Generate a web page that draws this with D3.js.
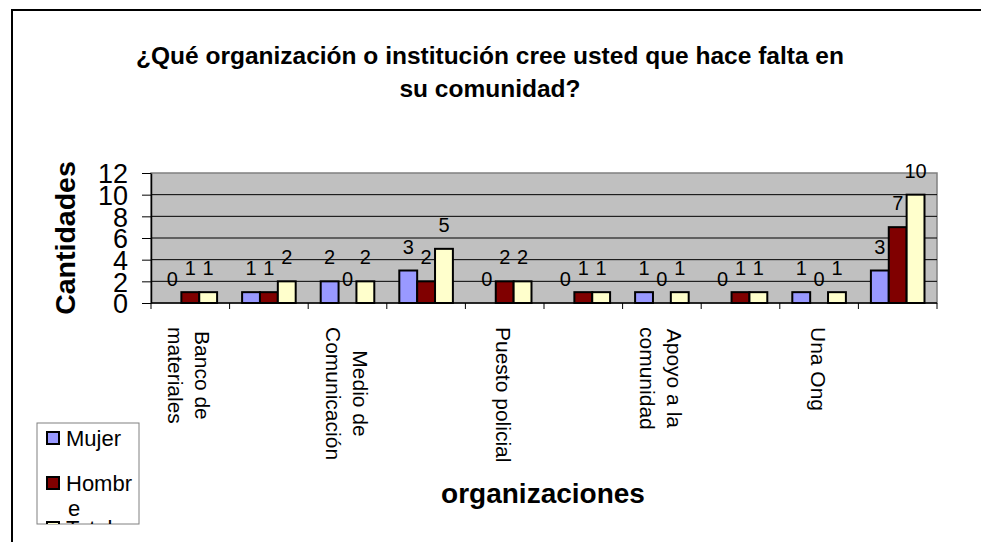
<!DOCTYPE html>
<html>
<head>
<meta charset="utf-8">
<script src="https://cdn.jsdelivr.net/npm/d3@7"></script>
<style>
  html, body { margin: 0; padding: 0; background: #fff; }
  svg { display: block; font-family: "Liberation Sans", Arial, sans-serif; }
</style>
</head>
<body>
<div id="chart"></div>
<script>
// categories (only every other label is shown on the axis, like the original)
const categories = ["Banco de\nmateriales", "", "Medio de\nComunicación", "", "Puesto policial", "",
  "Apoyo a la\ncomunidad", "", "Una Ong", ""];
const series = ["Mujer", "Hombre", "Total"];
const mujer = [0, 1, 2, 3, 0, 0, 1, 0, 1, 3];
const hombre = [1, 1, 0, 2, 2, 1, 0, 1, 0, 7];
const total = [1, 2, 2, 5, 2, 1, 1, 1, 1, 10];
const yTicks = [0, 2, 4, 6, 8, 10, 12];
const colors = ["#9999FF", "#800000", "#FFFFCC"];

const width = 981, height = 542;
const plot = { left: 151, right: 937, top: 173, bottom: 303 };

const svg = d3.select("#chart").append("svg")
  .attr("width", width)
  .attr("height", height);

svg.append("rect").attr("width", width).attr("height", height).attr("fill", "#fff");

// outer chart frame (only top and left visible)
svg.append("path")
  .attr("d", `M12,${height} L12,10 L${width},10`)
  .attr("fill", "none")
  .attr("stroke", "#000")
  .attr("stroke-width", 2);

// title
svg.append("text")
  .attr("x", 490).attr("text-anchor", "middle")
  .style("font-weight", "bold").style("font-size", "24.5px")
  .selectAll("tspan")
  .data(["¿Qué organización o institución cree usted que hace falta en", "su comunidad?"])
  .join("tspan")
    .attr("x", 490)
    .attr("y", (d, i) => 64 + i * 33)
    .text(d => d);

const idx = d3.range(categories.length);
const x0 = d3.scaleBand().domain(idx).range([plot.left, plot.right]).paddingInner(0).paddingOuter(0);
const x1 = d3.scaleBand().domain(series).range([0, x0.bandwidth()]).paddingInner(0).paddingOuter(0.7);
const y = d3.scaleLinear().domain([0, 12]).range([plot.bottom, plot.top]);

// plot background
svg.append("rect")
  .attr("x", plot.left).attr("y", plot.top)
  .attr("width", plot.right - plot.left).attr("height", plot.bottom - plot.top)
  .attr("fill", "#C0C0C0")
  .attr("stroke", "#808080")
  .attr("stroke-width", 1.5);

// gridlines
svg.append("g")
  .selectAll("line")
  .data(yTicks.filter(t => t > 0 && t < 12))
  .join("line")
    .attr("x1", plot.left).attr("x2", plot.right)
    .attr("y1", d => y(d)).attr("y2", d => y(d))
    .attr("stroke", "#000").attr("stroke-width", 1);

// bars
const data = idx.map(i => ({ i, values: [mujer[i], hombre[i], total[i]] }));

const groups = svg.append("g")
  .selectAll("g")
  .data(data)
  .join("g")
    .attr("transform", d => `translate(${x0(d.i)},0)`);

groups.selectAll("rect")
  .data(d => d.values.map((v, k) => ({ s: series[k], v, k })))
  .join("rect")
    .filter(d => d.v > 0)
    .attr("x", d => x1(d.s))
    .attr("y", d => y(d.v))
    .attr("width", x1.bandwidth())
    .attr("height", d => y(0) - y(d.v))
    .attr("fill", d => colors[d.k])
    .attr("stroke", "#000")
    .attr("stroke-width", 2);

// value labels
groups.selectAll("text")
  .data(d => d.values.map((v, k) => ({ s: series[k], v, k })))
  .join("text")
    .attr("x", d => x1(d.s) + x1.bandwidth() / 2)
    .attr("y", d => y(d.v) - 17)
    .attr("text-anchor", "middle")
    .style("font-size", "20px")
    .text(d => d.v);

// y axis
const yAxis = svg.append("g")
  .attr("transform", `translate(${plot.left},0)`)
  .call(d3.axisLeft(y).tickValues(yTicks).tickSize(9).tickPadding(14).tickSizeOuter(0));
yAxis.select(".domain").attr("stroke", "#000").attr("stroke-width", 1.5);
yAxis.selectAll(".tick line").attr("stroke", "#000");
yAxis.selectAll("text")
  .style("font-size", "27px")
  .style("font-family", "'Liberation Sans', Arial, sans-serif")
  .attr("fill", "#000")
  .attr("dy", "0.36em");

// x axis (ticks between categories)
const xAxis = svg.append("g")
  .attr("transform", `translate(0,${plot.bottom})`);
xAxis.append("line")
  .attr("x1", plot.left).attr("x2", plot.right)
  .attr("stroke", "#000").attr("stroke-width", 1.5);
xAxis.selectAll(".tk")
  .data(idx.concat([categories.length]))
  .join("line")
    .attr("class", "tk")
    .attr("x1", d => d < categories.length ? x0(d) : plot.right)
    .attr("x2", d => d < categories.length ? x0(d) : plot.right)
    .attr("y1", 0).attr("y2", 6)
    .attr("stroke", "#000");

// rotated category labels
const catG = svg.append("g")
  .selectAll("g")
  .data(idx.filter(i => categories[i] !== ""))
  .join("g")
    .attr("transform", i => `translate(${x0(i) + x0.bandwidth() / 2},327) rotate(90)`);

catG.each(function (i) {
  const lines = categories[i].split("\n");
  const g = d3.select(this);
  const t = g.append("text")
    .style("font-size", "21px")
    .attr("text-anchor", "middle");
  t.selectAll("tspan")
    .data(lines)
    .join("tspan")
      .attr("y", (d, k) => 8.5 + (k - (lines.length - 1) / 2) * 27)
      .text(d => d);
  // top-align the block: every line centered on the longest one
  let maxLen = 0;
  t.selectAll("tspan").each(function () { maxLen = Math.max(maxLen, this.getComputedTextLength()); });
  t.selectAll("tspan").attr("x", maxLen / 2);
});

// axis titles
svg.append("text")
  .attr("transform", "translate(75,238) rotate(-90)")
  .attr("text-anchor", "middle")
  .style("font-weight", "bold").style("font-size", "28.5px")
  .text("Cantidades");

svg.append("text")
  .attr("x", 543).attr("y", 503)
  .attr("text-anchor", "middle")
  .style("font-weight", "bold").style("font-size", "28px")
  .text("organizaciones");

// legend (box is too small, so "Hombre" wraps and "Total" is cut off)
const legend = { x: 37, y: 423, w: 102, h: 101 };
svg.append("clipPath").attr("id", "legclip")
  .append("rect").attr("x", legend.x).attr("y", legend.y).attr("width", legend.w).attr("height", legend.h);

svg.append("rect")
  .attr("x", legend.x).attr("y", legend.y)
  .attr("width", legend.w).attr("height", legend.h)
  .attr("fill", "#fff").attr("stroke", "#808080");

const legendLines = [["Mujer"], ["Hombr", "e"], ["Total"]];
const legendTop = [432, 477, 522];
const leg = svg.append("g").attr("clip-path", "url(#legclip)")
  .selectAll("g")
  .data(series)
  .join("g");

leg.append("rect")
  .attr("x", 47).attr("y", (d, k) => legendTop[k])
  .attr("width", 12).attr("height", 12)
  .attr("fill", (d, k) => colors[k])
  .attr("stroke", "#000").attr("stroke-width", 2);

leg.append("text")
  .style("font-size", "22px")
  .selectAll("tspan")
  .data((d, k) => legendLines[k].map((s, j) => ({ s, j, k })))
  .join("tspan")
    .attr("x", d => d.j === 0 ? 66 : 68)
    .attr("y", d => legendTop[d.k] + 14 + d.j * 25)
    .text(d => d.s);
</script>
</body>
</html>
